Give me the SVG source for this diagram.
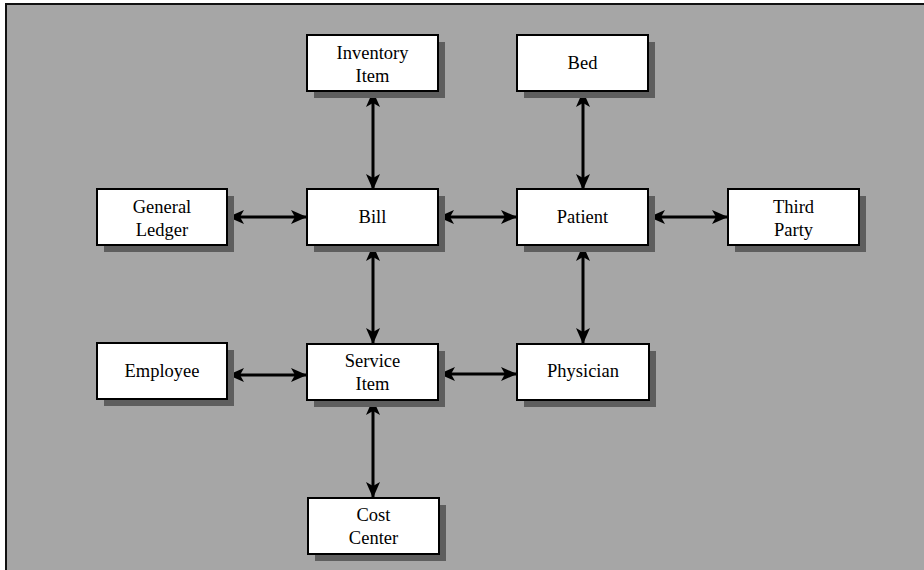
<svg xmlns="http://www.w3.org/2000/svg" width="924" height="570" viewBox="0 0 924 570">
<style>
.bg{fill:#a6a6a6;stroke:#111;stroke-width:2}
.shadow{fill:#5e5e5e}
.box{fill:#fff;stroke:#000;stroke-width:2}
.lbl{font-family:"Liberation Serif","Times New Roman",serif;font-size:18.5px;fill:#000;text-anchor:middle}
.conn{stroke:#000;stroke-width:3;fill:none;marker-start:url(#ah);marker-end:url(#ah)}
</style>
<defs>
<marker id="ah" viewBox="0 0 16 14" refX="15" refY="7" markerWidth="16" markerHeight="14" markerUnits="userSpaceOnUse" orient="auto-start-reverse">
<path d="M0,0 L16,7 L0,14 L4,7 Z" fill="#000"/>
</marker>
</defs>
<rect class="bg" x="6" y="4" width="930" height="580"/>
<g id="connectors">
<line class="conn" x1="373" y1="92" x2="373" y2="189"/>
<line class="conn" x1="373" y1="246" x2="373" y2="343"/>
<line class="conn" x1="373" y1="400" x2="373" y2="497"/>
<line class="conn" x1="583" y1="92" x2="583" y2="189"/>
<line class="conn" x1="583" y1="246" x2="583" y2="343"/>
<line class="conn" x1="229" y1="217" x2="306" y2="217"/>
<line class="conn" x1="439" y1="217" x2="516" y2="217"/>
<line class="conn" x1="650" y1="217" x2="727" y2="217"/>
<line class="conn" x1="229" y1="375" x2="306" y2="375"/>
<line class="conn" x1="440" y1="374" x2="516" y2="374"/>
</g>
<g id="inventory-item">
<rect class="shadow" x="314" y="42" width="131" height="56"/>
<rect class="box" x="307" y="35" width="131" height="56"/>
<text class="lbl" x="372.5" y="59">Inventory</text>
<text class="lbl" x="372.5" y="82">Item</text>
</g>
<g id="bed">
<rect class="shadow" x="524" y="42" width="131" height="56"/>
<rect class="box" x="517" y="35" width="131" height="56"/>
<text class="lbl" x="582.5" y="69">Bed</text>
</g>
<g id="general-ledger">
<rect class="shadow" x="104" y="196" width="130" height="56"/>
<rect class="box" x="97" y="189" width="130" height="56"/>
<text class="lbl" x="162" y="213">General</text>
<text class="lbl" x="162" y="236">Ledger</text>
</g>
<g id="bill">
<rect class="shadow" x="314" y="196" width="131" height="56"/>
<rect class="box" x="307" y="189" width="131" height="56"/>
<text class="lbl" x="372.5" y="223">Bill</text>
</g>
<g id="patient">
<rect class="shadow" x="524" y="196" width="131" height="56"/>
<rect class="box" x="517" y="189" width="131" height="56"/>
<text class="lbl" x="582.5" y="223">Patient</text>
</g>
<g id="third-party">
<rect class="shadow" x="735" y="196" width="131" height="56"/>
<rect class="box" x="728" y="189" width="131" height="56"/>
<text class="lbl" x="793.5" y="213">Third</text>
<text class="lbl" x="793.5" y="236">Party</text>
</g>
<g id="employee">
<rect class="shadow" x="104" y="350" width="130" height="56"/>
<rect class="box" x="97" y="343" width="130" height="56"/>
<text class="lbl" x="162" y="377">Employee</text>
</g>
<g id="service-item">
<rect class="shadow" x="314" y="351" width="131" height="56"/>
<rect class="box" x="307" y="344" width="131" height="56"/>
<text class="lbl" x="372.5" y="367">Service</text>
<text class="lbl" x="372.5" y="390">Item</text>
</g>
<g id="physician">
<rect class="shadow" x="524" y="351" width="132" height="56"/>
<rect class="box" x="517" y="344" width="132" height="56"/>
<text class="lbl" x="583" y="377">Physician</text>
</g>
<g id="cost-center">
<rect class="shadow" x="315" y="505" width="131" height="56"/>
<rect class="box" x="308" y="498" width="131" height="56"/>
<text class="lbl" x="373.5" y="521">Cost</text>
<text class="lbl" x="373.5" y="544">Center</text>
</g>
</svg>
